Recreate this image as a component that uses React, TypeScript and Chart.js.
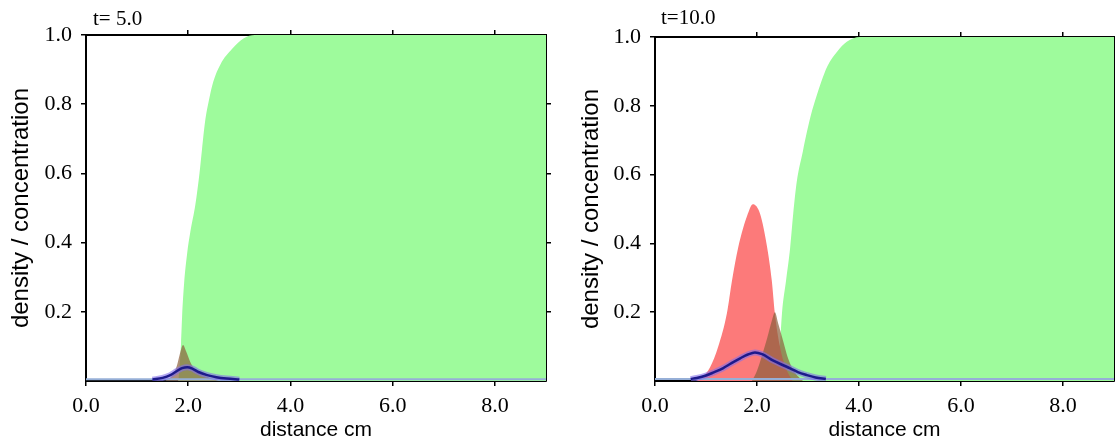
import React, { useEffect, useRef } from 'react';
import { Chart, registerables } from 'chart.js';

Chart.register(...registerables);

// ---------- axes ----------
const X_MIN = 0;
const X_MAX = 9;
const Y_MIN = 0;
const Y_MAX = 1;
const xTickValues = [0, 2, 4, 6, 8];
const xTopTickValues = [2, 4, 6, 8];
const yTickValues = [0.2, 0.4, 0.6, 0.8, 1.0];
const yRightTickValues = [0.2, 0.4, 0.6, 0.8];
const panelTitles = ['t= 5.0', 't=10.0'];
const xTitle = 'distance cm';
const yTitle = 'density / concentration';

// ---------- t = 5.0 ----------
const greenX5 = [0, 1.8, 1.84, 1.86, 1.88, 1.92, 1.98, 2.04, 2.14, 2.22, 2.27, 2.33, 2.41, 2.49, 2.63, 2.86, 3.08, 3.3, 9];
const greenY5 = [0, 0, 0.06, 0.11, 0.185, 0.283, 0.37, 0.43, 0.51, 0.6, 0.67, 0.75, 0.815, 0.865, 0.915, 0.96, 0.99, 1.0, 1.0];
const brownX5 = [1.55, 1.68, 1.78, 1.84, 1.9, 1.96, 2.04, 2.15, 2.37, 2.6];
const brownY5 = [0, 0.015, 0.045, 0.08, 0.104, 0.085, 0.055, 0.03, 0.012, 0];
const redX5: number[] = [];
const redY5: number[] = [];
const blueX5 = [1.3, 1.5, 1.65, 1.78, 1.88, 1.98, 2.08, 2.2, 2.37, 2.55, 2.75, 3.0];
const blueY5 = [0.004, 0.009, 0.017, 0.029, 0.037, 0.04, 0.036, 0.026, 0.017, 0.011, 0.007, 0.004];
const baseX5 = [0, 9];
const baseY5 = [0.005, 0.005];

// ---------- t = 10.0 ----------
const greenX10 = [0, 2.4, 2.45, 2.49, 2.57, 2.65, 2.71, 2.78, 2.9, 2.98, 3.06, 3.16, 3.26, 3.38, 3.57, 3.76, 4.02, 9];
const greenY10 = [0, 0, 0.1, 0.197, 0.292, 0.387, 0.486, 0.58, 0.668, 0.725, 0.775, 0.825, 0.87, 0.915, 0.957, 0.986, 1.0, 1.0];
const redX10 = [0.8, 0.92, 1.08, 1.24, 1.41, 1.51, 1.63, 1.82, 1.92, 2.06, 2.2, 2.29, 2.35, 2.45, 2.56, 2.7];
const redY10 = [0, 0.01, 0.04, 0.1, 0.197, 0.292, 0.387, 0.486, 0.514, 0.486, 0.387, 0.292, 0.197, 0.1, 0.04, 0];
const brownX10 = [1.9, 2.0, 2.1, 2.2, 2.3, 2.35, 2.42, 2.51, 2.6, 2.72, 2.9];
const brownY10 = [0, 0.03, 0.075, 0.125, 0.18, 0.2, 0.165, 0.118, 0.07, 0.03, 0];
const blueX10 = [0.7, 0.82, 1.0, 1.15, 1.33, 1.5, 1.67, 1.82, 1.96, 2.1, 2.31, 2.48, 2.65, 2.8, 2.98, 3.15, 3.35];
const blueY10 = [0.006, 0.009, 0.016, 0.025, 0.037, 0.052, 0.066, 0.077, 0.083, 0.078, 0.06, 0.048, 0.037, 0.026, 0.017, 0.01, 0.006];
const baseX10 = [0, 9];
const baseY10 = [0.006, 0.006];

// ---------- styles ----------
const GREEN = 'rgb(158,251,156)';
const RED = 'rgb(252,122,122)';
const BROWN = 'rgba(140,95,60,0.7)';
const BLUE = '#1d1a8c';
const BLUE_HALO = 'rgba(130,110,235,0.6)';
const BASE = 'rgb(150,175,215)';
const SERIF = "'Liberation Serif', 'Times New Roman', serif";
const SANS = "'Liberation Sans', Arial, sans-serif";

type Series = {
  green: [number[], number[]];
  red: [number[], number[]];
  brown: [number[], number[]];
  blue: [number[], number[]];
  base: [number[], number[]];
};

type Frame = { left: number; right: number; top: number; bottom: number };

const pts = (xs: number[], ys: number[]) => xs.map((x, i) => ({ x, y: ys[i] }));

const setTicks = (vals: number[]) => (scale: any) => {
  scale.ticks = vals.map((v) => ({ value: v }));
};

function makeConfig(s: Series, f: Frame): any {
  const grid = { drawOnChartArea: false, drawTicks: true, tickLength: 5, color: '#000', lineWidth: 1.5 };
  const border = { display: true, color: '#000', width: 2 };
  const fillDs = (label: string, d: [number[], number[]], color: string) => ({
    label,
    data: pts(d[0], d[1]),
    fill: 'origin',
    backgroundColor: color,
    borderColor: 'transparent',
    borderWidth: 0,
    pointRadius: 0,
    cubicInterpolationMode: 'monotone',
  });
  const lineDs = (label: string, d: [number[], number[]], color: string, w: number) => ({
    label,
    data: pts(d[0], d[1]),
    fill: false,
    borderColor: color,
    borderWidth: w,
    pointRadius: 0,
    cubicInterpolationMode: 'monotone',
  });
  return {
    type: 'line',
    data: {
      datasets: [
        lineDs('blue', s.blue, BLUE, 2.5),
        lineDs('blue halo', s.blue, BLUE_HALO, 6),
        lineDs('baseline', s.base, BASE, 2),
        fillDs('brown', s.brown, BROWN),
        fillDs('red', s.red, RED),
        fillDs('green', s.green, GREEN),
      ],
    },
    options: {
      animation: false,
      responsive: true,
      maintainAspectRatio: false,
      layout: { padding: 0 },
      plugins: { legend: { display: false }, tooltip: { enabled: false }, title: { display: false } },
      scales: {
        x: {
          type: 'linear',
          position: 'bottom',
          min: X_MIN,
          max: X_MAX,
          afterBuildTicks: setTicks(xTickValues),
          afterFit: (sc: any) => { sc.height = f.bottom; },
          ticks: {
            callback: (v: any) => Number(v).toFixed(1),
            font: { family: SERIF, size: 22 },
            color: '#000',
            padding: 7,
            maxRotation: 0,
            autoSkip: false,
          },
          grid,
          border,
          title: { display: true, text: xTitle, color: '#000', font: { family: SANS, size: 21, lineHeight: 1 }, padding: 0 },
        },
        x2: {
          type: 'linear',
          position: 'top',
          display: true,
          min: X_MIN,
          max: X_MAX,
          afterBuildTicks: setTicks(xTopTickValues),
          afterFit: (sc: any) => { sc.height = f.top; },
          ticks: { display: false },
          grid,
          border,
        },
        y: {
          type: 'linear',
          position: 'left',
          min: Y_MIN,
          max: Y_MAX,
          afterBuildTicks: setTicks(yTickValues),
          afterFit: (sc: any) => { sc.width = f.left; },
          ticks: {
            callback: (v: any) => Number(v).toFixed(1),
            font: { family: SERIF, size: 22 },
            color: '#000',
            padding: 9,
            autoSkip: false,
          },
          grid,
          border,
          title: { display: true, text: yTitle, color: '#000', font: { family: SANS, size: 24, lineHeight: 1 }, padding: { top: 9, bottom: 0 } },
        },
        y2: {
          type: 'linear',
          position: 'right',
          display: true,
          min: Y_MIN,
          max: Y_MAX,
          afterBuildTicks: setTicks(yRightTickValues),
          afterFit: (sc: any) => { sc.width = f.right; },
          ticks: { display: false },
          grid,
          border,
        },
      },
    },
  };
}

function Panel(props: { series: Series; frame: Frame; left: number; width: number; title: string; titleLeft: number; titleTop: number }) {
  const ref = useRef<HTMLCanvasElement | null>(null);
  useEffect(() => {
    if (!ref.current) return;
    const chart = new Chart(ref.current, makeConfig(props.series, props.frame));
    return () => chart.destroy();
  }, []);
  return (
    <>
      <div style={{ position: 'absolute', left: props.left, top: 0, width: props.width, height: 441 }}>
        <canvas ref={ref} />
      </div>
      <div
        style={{
          position: 'absolute',
          left: props.titleLeft,
          top: props.titleTop,
          fontFamily: SERIF,
          fontSize: 21,
          lineHeight: '21px',
          color: '#000',
          whiteSpace: 'pre',
        }}
      >
        {props.title}
      </div>
    </>
  );
}

export default function App() {
  const s5: Series = {
    green: [greenX5, greenY5],
    red: [redX5, redY5],
    brown: [brownX5, brownY5],
    blue: [blueX5, blueY5],
    base: [baseX5, baseY5],
  };
  const s10: Series = {
    green: [greenX10, greenY10],
    red: [redX10, redY10],
    brown: [brownX10, brownY10],
    blue: [blueX10, blueY10],
    base: [baseX10, baseY10],
  };
  return (
    <div style={{ position: 'absolute', left: 0, top: 0, width: 1115, height: 441, overflow: 'hidden', background: '#fff' }}>
      <Panel series={s5} frame={{ left: 86, right: 14, top: 35, bottom: 60 }} left={0} width={560} title={panelTitles[0]} titleLeft={93} titleTop={8} />
      <Panel series={s10} frame={{ left: 85, right: 1, top: 37, bottom: 60 }} left={570} width={545} title={panelTitles[1]} titleLeft={661} titleTop={7} />
    </div>
  );
}
